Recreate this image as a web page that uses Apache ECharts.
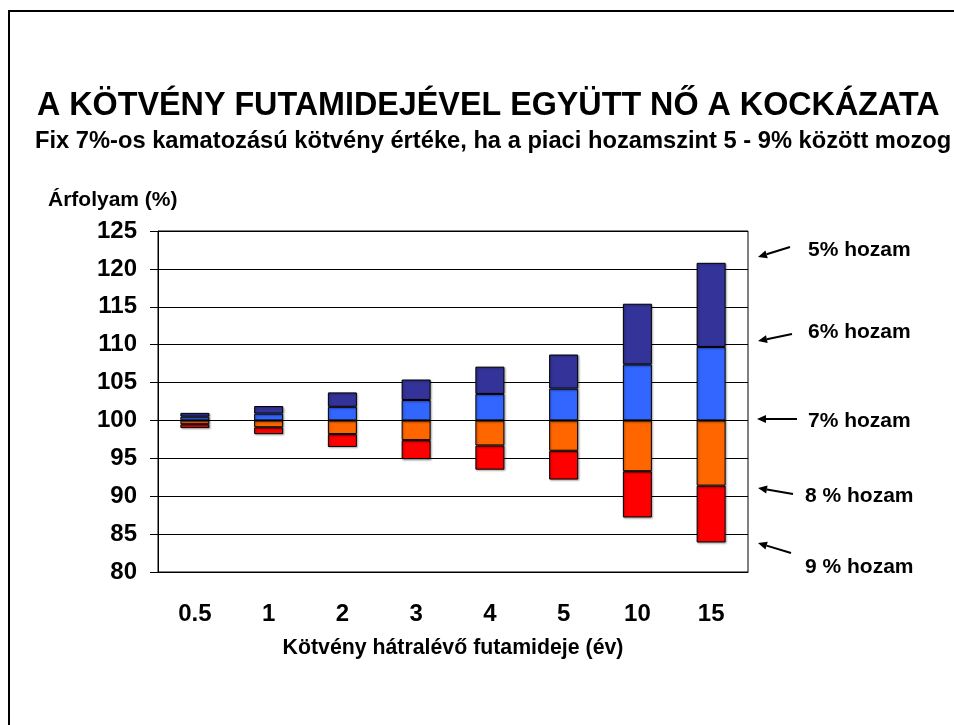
<!DOCTYPE html>
<html>
<head>
<meta charset="utf-8">
<script src="https://cdn.jsdelivr.net/npm/echarts@6/dist/echarts.min.js"></script>
<style>
  html, body { margin: 0; padding: 0; background: #fff; }
  #chart { width: 954px; height: 725px; }
</style>
</head>
<body>
<div id="chart"></div>
<script>
// Bond price (%) for each remaining maturity, per market yield
const maturities = ['0.5', '1', '2', '3', '4', '5', '10', '15']
const price5 = [101.0, 101.9, 103.7, 105.4, 107.1, 108.7, 115.4, 120.8]
const price6 = [100.5, 100.9, 101.8, 102.7, 103.5, 104.2, 107.4, 109.7]
const price8 = [99.5, 99.1, 98.2, 97.4, 96.7, 96.0, 93.3, 91.4]
const price9 = [99.0, 98.2, 96.5, 94.9, 93.5, 92.2, 87.2, 83.9]
const par = 100  // 7% yield = coupon, price stays at par

const yieldLabels = ['5% hozam', '6% hozam', '7% hozam', '8 % hozam', '9 % hozam']

const FONT = "'Liberation Sans', Arial, sans-serif"

const diff = (a, b) => a.map((v, i) => +(v - (Array.isArray(b) ? b[i] : b)).toFixed(2))

const chart = echarts.init(document.getElementById('chart'))

// arrow helper for the annotation arrows on the right
const arrow = (x1, y1, x2, y2) => {
  const ang = Math.atan2(y2 - y1, x2 - x1)
  const len = 9, w = 4
  const bx = x2 - len * Math.cos(ang), by = y2 - len * Math.sin(ang)
  const nx = -Math.sin(ang) * w, ny = Math.cos(ang) * w
  return [
    { type: 'line', shape: { x1, y1, x2: bx, y2: by }, style: { stroke: '#000', lineWidth: 2 } },
    { type: 'polygon', shape: { points: [[x2, y2], [bx + nx, by + ny], [bx - nx, by - ny]] }, style: { fill: '#000' } }
  ]
}

const labelY = [250, 332, 421, 496, 567]
const labelX = [808, 808, 808, 805, 805]
const arrows = [
  [790, 247, 758, 257],
  [792, 334, 758, 341],
  [797, 419, 757, 419],
  [793, 494, 758, 488],
  [791, 553, 758, 543]
]

const graphics = [
  { type: 'polyline', shape: { points: [[9, 760], [9, 11], [1000, 11]] }, style: { stroke: '#000', lineWidth: 2, fill: null } }
]
yieldLabels.forEach((t, i) => {
  graphics.push({
    type: 'text', x: labelX[i], y: labelY[i],
    style: { text: t, font: 'bold 21px ' + FONT, fill: '#000', verticalAlign: 'middle' }
  })
})
arrows.forEach(a => graphics.push(...arrow(...a)))

const segStyle = color => ({ color, borderColor: '#000', borderWidth: 1, shadowColor: 'rgba(0,0,0,0.35)', shadowBlur: 2, shadowOffsetX: 1, shadowOffsetY: 1 })

chart.setOption({
  animation: false,
  title: [
    {
      text: 'A KÖTVÉNY FUTAMIDEJÉVEL EGYÜTT NŐ A KOCKÁZATA',
      left: 32, top: 85,
      textStyle: { fontFamily: FONT, fontSize: 32.3, fontWeight: 'bold', color: '#000' }
    },
    {
      text: 'Fix 7%-os kamatozású kötvény értéke, ha a piaci hozamszint 5 - 9% között mozog',
      left: 30, top: 124,
      textStyle: { fontFamily: FONT, fontSize: 23.7, fontWeight: 'bold', color: '#000' }
    },
    {
      text: 'Árfolyam (%)',
      left: 43, top: 185,
      textStyle: { fontFamily: FONT, fontSize: 21, fontWeight: 'bold', color: '#000' }
    }
  ],
  grid: {
    left: 158, right: 206, top: 231, bottom: 153,
    show: true, borderColor: '#000', borderWidth: 1
  },
  xAxis: {
    type: 'category',
    data: maturities,
    name: 'Kötvény hátralévő futamideje (év)',
    nameLocation: 'middle',
    nameGap: 66,
    nameTextStyle: { fontFamily: FONT, fontSize: 21.3, fontWeight: 'bold', color: '#000' },
    axisLine: { lineStyle: { color: '#000', width: 1 } },
    axisTick: { length: 8, lineStyle: { color: '#000' } },
    axisLabel: { margin: 30, fontFamily: FONT, fontSize: 24, fontWeight: 'bold', color: '#000' }
  },
  yAxis: {
    type: 'value',
    min: 80, max: 125, interval: 5,
    axisLine: { show: true, lineStyle: { color: '#000', width: 1 } },
    axisTick: { show: true, length: 8, lineStyle: { color: '#000' } },
    axisLabel: { margin: 21, fontFamily: FONT, fontSize: 24, fontWeight: 'bold', color: '#000' },
    splitLine: { lineStyle: { color: '#000', width: 1 } }
  },
  series: [
    { name: 'base', type: 'bar', stack: 'p', barWidth: 29, data: price9, itemStyle: { color: 'transparent' }, silent: true },
    { name: '9%', type: 'bar', stack: 'p', barWidth: 29, data: diff(price8, price9), itemStyle: segStyle('#FF0000') },
    { name: '8%', type: 'bar', stack: 'p', barWidth: 29, data: diff(Array(price8.length).fill(par), price8), itemStyle: segStyle('#FF6600') },
    { name: '6%', type: 'bar', stack: 'p', barWidth: 29, data: diff(price6, par), itemStyle: segStyle('#3366FF') },
    { name: '5%', type: 'bar', stack: 'p', barWidth: 29, data: diff(price5, price6), itemStyle: segStyle('#333399') }
  ],
  graphic: graphics
})
</script>
</body>
</html>
